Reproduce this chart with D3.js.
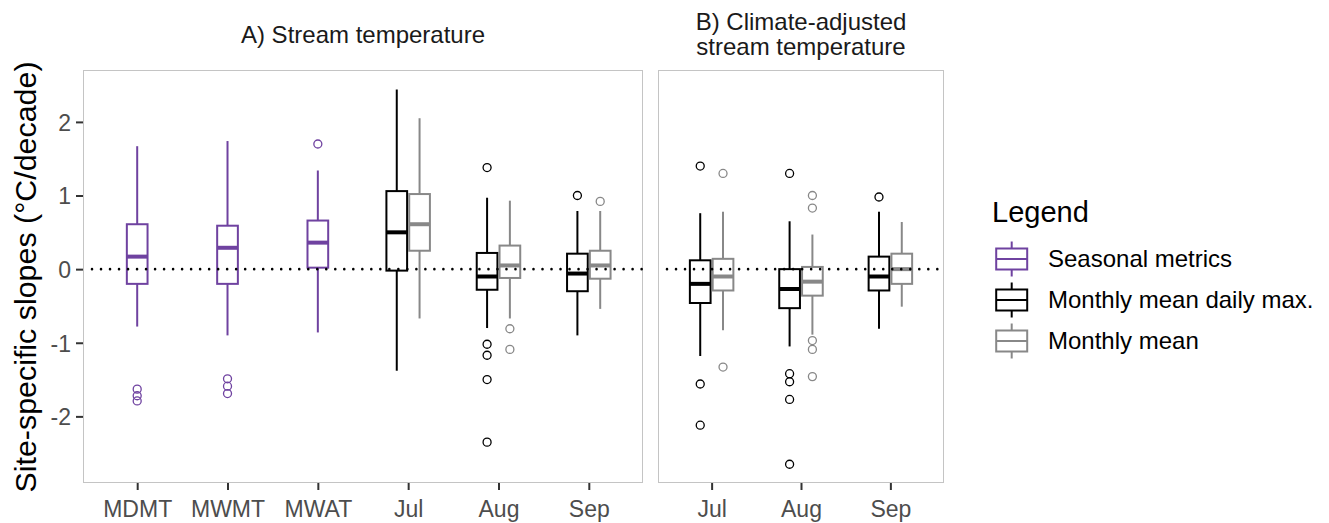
<!DOCTYPE html>
<html><head><meta charset="utf-8">
<script src="https://cdn.jsdelivr.net/npm/d3@7"></script>
<style>body{margin:0;background:#fff;} text{font-family:"Liberation Sans",Arial,sans-serif;}</style>
</head><body><svg id="c" width="1329" height="523"></svg>
<script>
// ---- data ----
const panelTitles = ["A) Stream temperature", ["B) Climate-adjusted", "stream temperature"]];
const catsA = ["MDMT", "MWMT", "MWAT", "Jul", "Aug", "Sep"];
const catsB = ["Jul", "Aug", "Sep"];
const seasonalCats = ["MDMT", "MWMT", "MWAT"];
const monthCats = ["Jul", "Aug", "Sep"];
const yTicks = [-2, -1, 0, 1, 2];
const legendLabels = ["Seasonal metrics", "Monthly mean daily max.", "Monthly mean"];
// stats: [lower whisker, Q1, median, Q3, upper whisker]
const seasonalStats = [
  [-0.78, -0.20, 0.17, 0.61, 1.67],
  [-0.90, -0.20, 0.29, 0.59, 1.74],
  [-0.86, 0.02, 0.36, 0.66, 1.34]
];
const seasonalOutliers = [[-1.63, -1.72, -1.79], [-1.49, -1.59, -1.69], [1.70]];
const streamMaxStats = [
  [-1.38, -0.02, 0.50, 1.06, 2.44],
  [-0.80, -0.28, -0.10, 0.22, 0.97],
  [-0.90, -0.30, -0.06, 0.21, 0.79]
];
const streamMaxOutliers = [[], [1.38, -1.02, -1.17, -1.50, -2.35], [1.00]];
const streamMeanStats = [
  [-0.67, 0.25, 0.61, 1.02, 2.05],
  [-0.67, -0.12, 0.05, 0.32, 0.93],
  [-0.54, -0.13, 0.05, 0.25, 0.79]
];
const streamMeanOutliers = [[], [-0.81, -1.09], [0.92]];
const adjMaxStats = [
  [-1.18, -0.46, -0.20, 0.12, 0.76],
  [-1.05, -0.53, -0.27, 0.00, 0.65],
  [-0.81, -0.29, -0.10, 0.17, 0.78]
];
const adjMaxOutliers = [[1.40, -1.56, -2.12], [1.30, -1.42, -1.53, -1.77, -2.65], [0.98]];
const adjMeanStats = [
  [-0.83, -0.29, -0.10, 0.14, 0.78],
  [-0.89, -0.36, -0.17, 0.03, 0.47],
  [-0.51, -0.20, 0.00, 0.21, 0.64]
];
const adjMeanOutliers = [[1.30, -1.33], [1.00, 0.83, -0.97, -1.09, -1.46], []];

// ---- styles ----
const colPurple = "#6f42a0", colBlack = "#000000", colGray = "#888888";
const svg = d3.select("#c");

const y = d3.scaleLinear().domain([-2.905, 2.705]).range([483, 70]);
const xA = d3.scalePoint().domain(catsA).range([83, 643]).padding(0.6);
const xB = d3.scalePoint().domain(catsB).range([658, 944]).padding(0.6);
const dodge = d3.scalePoint().domain(["max", "mean"]).range([-11.4, 11.4]);
const boxW = 20.7;

// panel borders
[[83, 643], [658, 944]].forEach(([l, r]) => {
  svg.append("rect").attr("x", l + 0.5).attr("y", 70.5).attr("width", r - l - 1).attr("height", 483 - 70 - 1)
    .attr("fill", "none").attr("stroke", "#c4c4c4").attr("stroke-width", 1);
});

function drawBox(g, cx, s, outs, color) {
  const [lo, q1, med, q3, hi] = s;
  g.append("line").attr("x1", cx).attr("x2", cx).attr("y1", y(hi)).attr("y2", y(q3))
    .attr("stroke", color).attr("stroke-width", 2);
  g.append("line").attr("x1", cx).attr("x2", cx).attr("y1", y(q1)).attr("y2", y(lo))
    .attr("stroke", color).attr("stroke-width", 2);
  g.append("rect").attr("x", cx - boxW / 2).attr("y", y(q3)).attr("width", boxW).attr("height", y(q1) - y(q3))
    .attr("fill", "white").attr("stroke", color).attr("stroke-width", 2);
  g.append("line").attr("x1", cx - boxW / 2).attr("x2", cx + boxW / 2).attr("y1", y(med)).attr("y2", y(med))
    .attr("stroke", color).attr("stroke-width", 4);
  outs.forEach(o => g.append("circle").attr("cx", cx).attr("cy", y(o)).attr("r", 4)
    .attr("fill", "none").attr("stroke", color).attr("stroke-width", 1.3));
}

const gMarks = svg.append("g");
seasonalCats.forEach((c, i) => drawBox(gMarks, xA(c), seasonalStats[i], seasonalOutliers[i], colPurple));
monthCats.forEach((c, i) => {
  drawBox(gMarks, xA(c) + dodge("max"), streamMaxStats[i], streamMaxOutliers[i], colBlack);
  drawBox(gMarks, xA(c) + dodge("mean"), streamMeanStats[i], streamMeanOutliers[i], colGray);
  drawBox(gMarks, xB(c) + dodge("max"), adjMaxStats[i], adjMaxOutliers[i], colBlack);
  drawBox(gMarks, xB(c) + dodge("mean"), adjMeanStats[i], adjMeanOutliers[i], colGray);
});

// zero reference lines
[[83, 643], [658, 944]].forEach(([l, r]) => {
  svg.append("line").attr("x1", l + 9).attr("x2", r).attr("y1", y(0)).attr("y2", y(0))
    .attr("stroke", "#000").attr("stroke-width", 2.6).attr("stroke-dasharray", "0.01,9")
    .attr("stroke-linecap", "round");
});

// axes
const yAxis = svg.append("g").attr("transform", "translate(83,0)")
  .call(d3.axisLeft(y).tickValues(yTicks).tickSize(7).tickPadding(5).tickFormat(d => String(d)));
const xAxisA = svg.append("g").attr("transform", "translate(0,483)")
  .call(d3.axisBottom(xA).tickSize(7).tickPadding(5));
const xAxisB = svg.append("g").attr("transform", "translate(0,483)")
  .call(d3.axisBottom(xB).tickSize(7).tickPadding(5));
[yAxis, xAxisA, xAxisB].forEach(a => {
  a.select(".domain").remove();
  a.selectAll(".tick line").attr("stroke", "#333").attr("stroke-width", 2);
  a.selectAll(".tick text").attr("fill", "#4d4d4d").style("font-size", "23px")
    .style("font-family", "'Liberation Sans', Arial, sans-serif");
});
yAxis.selectAll(".tick text").attr("dy", "0.36em");
xAxisA.selectAll(".tick text").attr("dy", "0.95em");
xAxisB.selectAll(".tick text").attr("dy", "0.95em");

// strip titles
svg.append("text").attr("x", (83 + 643) / 2).attr("y", 42.5).attr("text-anchor", "middle")
  .style("font-size", "24px").attr("fill", "#1a1a1a").text(panelTitles[0]);
panelTitles[1].forEach((t, i) => svg.append("text").attr("x", (658 + 944) / 2).attr("y", 29.5 + i * 25)
  .attr("text-anchor", "middle").style("font-size", "24px").attr("fill", "#1a1a1a").text(t));

// y title
svg.append("text").attr("transform", "translate(36,277) rotate(-90)").attr("text-anchor", "middle")
  .style("font-size", "30.4px").attr("fill", "#000").text("Site-specific slopes (°C/decade)");

// legend
svg.append("text").attr("x", 992).attr("y", 221.5).style("font-size", "29px").attr("fill", "#000").text("Legend");
const legCols = [colPurple, colBlack, colGray];
legendLabels.forEach((lab, i) => {
  const cy = 259 + i * 41, cx = 1011.7;
  const g = svg.append("g");
  g.append("line").attr("x1", cx).attr("x2", cx).attr("y1", cy - 17.5).attr("y2", cy + 17.5)
    .attr("stroke", legCols[i]).attr("stroke-width", 2);
  g.append("rect").attr("x", cx - 15.5).attr("y", cy - 10.5).attr("width", 31).attr("height", 21)
    .attr("fill", "white").attr("stroke", legCols[i]).attr("stroke-width", 2);
  g.append("line").attr("x1", cx - 15.5).attr("x2", cx + 15.5).attr("y1", cy).attr("y2", cy)
    .attr("stroke", legCols[i]).attr("stroke-width", 2);
  g.append("text").attr("x", 1048).attr("y", cy).attr("dy", "0.35em").style("font-size", "24px")
    .attr("fill", "#000").text(lab);
});
</script></body></html>
